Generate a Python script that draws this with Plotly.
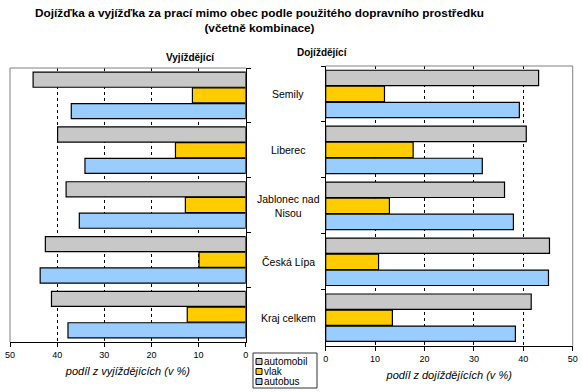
import plotly.graph_objects as go

categories = ["Semily", "Liberec", "Jablonec nad Nisou", "Česká Lípa", "Kraj celkem"]
category_labels = ["Semily", "Liberec", "Jablonec nad<br>Nisou", "Česká Lípa", "Kraj celkem"]
series_names = ["automobil", "vlak", "autobus"]

vyjizdejici_automobil = [45.1, 39.9, 38.1, 42.5, 41.2]
vyjizdejici_vlak = [11.3, 14.9, 12.8, 9.9, 12.4]
vyjizdejici_autobus = [37.0, 34.1, 35.3, 43.6, 37.7]

dojizdejici_automobil = [43.1, 40.6, 36.2, 45.3, 41.6]
dojizdejici_vlak = [11.9, 17.7, 12.9, 10.7, 13.5]
dojizdejici_autobus = [39.2, 31.7, 38.0, 45.1, 38.4]

x_ticks = [0, 10, 20, 30, 40, 50]
grid_ticks = [10, 20, 30, 40]

colors = ["#C8C8C8", "#FFCC00", "#99CCFF"]
W, H = 582, 392
FONT = "Liberation Sans, Arial, sans-serif"

fig = go.Figure()

left = [vyjizdejici_automobil, vyjizdejici_vlak, vyjizdejici_autobus]
right = [dojizdejici_automobil, dojizdejici_vlak, dojizdejici_autobus]

for name, vals, col in zip(series_names, left, colors):
    fig.add_trace(go.Bar(y=categories, x=vals, orientation="h", name=name,
                         marker=dict(color=col, line=dict(color="black", width=1.2)),
                         xaxis="x", yaxis="y", showlegend=False))
for name, vals, col in zip(series_names, right, colors):
    fig.add_trace(go.Bar(y=categories, x=vals, orientation="h", name=name,
                         marker=dict(color=col, line=dict(color="black", width=1.2)),
                         xaxis="x2", yaxis="y2", showlegend=False))

def px_x(p):
    return p / W

def px_y(p):
    return 1 - p / H

xcommon = dict(tickvals=x_ticks, ticks="outside", ticklen=4, tickcolor="black",
               showline=True, linecolor="black", linewidth=1, showgrid=False,
               zeroline=False, automargin=False, ticklabeloverflow="allow",
               tickfont=dict(family=FONT, size=9, color="black"),
               minor=dict(tickvals=grid_ticks, showgrid=True, gridcolor="black",
                          griddash="3px,3px", gridwidth=1, ticks=""),
               title=dict(font=dict(family=FONT, size=11, color="black", style="italic"), standoff=8))

ycommon = dict(type="category", categoryorder="array", categoryarray=categories,
               range=[4.5, -0.5], showticklabels=False, tickson="boundaries",
               ticks="outside", ticklen=4, tickcolor="black", automargin=False,
               showline=True, linecolor="black", linewidth=1, showgrid=False)

fig.update_layout(
    width=W, height=H,
    margin=dict(l=0, r=0, t=0, b=0, autoexpand=False),
    paper_bgcolor="white", plot_bgcolor="white",
    barmode="group", bargap=0.14, bargroupgap=0.04,
    showlegend=False,
    xaxis=dict(domain=[px_x(10), px_x(245.7)], range=[50, 0], anchor="y",
               title_text="podíl z vyjíždějících (v %)", **xcommon),
    yaxis=dict(domain=[px_y(342), px_y(68)], anchor="x", side="right", **ycommon),
    xaxis2=dict(domain=[px_x(325.7), px_x(572.7)], range=[0, 50], anchor="y2",
                title_text="podíl z dojíždějících (v %)", **xcommon),
    yaxis2=dict(domain=[px_y(345.7), px_y(66)], anchor="x2", side="left", **ycommon),
    font=dict(family=FONT, color="black"),
)

# gray frame lines (top/left of left panel, top/right of right panel)
frame = dict(type="line", line=dict(color="#808080", width=1), layer="above")
fig.add_shape(xref="x domain", yref="y domain", x0=0, x1=0, y0=0, y1=1, **frame)
fig.add_shape(xref="x domain", yref="y domain", x0=0, x1=1, y0=1, y1=1, **frame)
fig.add_shape(xref="x2 domain", yref="y2 domain", x0=1, x1=1, y0=0, y1=1, **frame)
fig.add_shape(xref="x2 domain", yref="y2 domain", x0=0, x1=1, y0=1, y1=1, **frame)

# manual legend
lx0, ly0, lx1, ly1 = 253, 353, 317, 388
fig.add_shape(type="rect", xref="paper", yref="paper",
              x0=px_x(lx0), x1=px_x(lx1), y0=px_y(ly1), y1=px_y(ly0),
              line=dict(color="#333333", width=1), fillcolor="white")
for i, (name, col) in enumerate(zip(series_names, colors)):
    cy = 361.5 + i * 10
    fig.add_shape(type="rect", xref="paper", yref="paper",
                  x0=px_x(256), x1=px_x(262), y0=px_y(cy + 3), y1=px_y(cy - 3),
                  line=dict(color="black", width=1), fillcolor=col)
    fig.add_annotation(x=px_x(262), y=px_y(cy), xref="paper", yref="paper",
                       xanchor="left", yanchor="middle", text=name, showarrow=False,
                       font=dict(family=FONT, size=10, color="black"))

# title and panel headings
fig.add_annotation(x=px_x(259), y=px_y(4), xref="paper", yref="paper", xanchor="center", yanchor="top",
                   text="<b>Dojížďka a vyjížďka za prací mimo obec podle použitého dopravního prostředku<br>(včetně kombinace)</b>",
                   showarrow=False, font=dict(family=FONT, size=11.8, color="black"))
fig.add_annotation(x=px_x(190), y=px_y(57), xref="paper", yref="paper", xanchor="center", yanchor="middle",
                   text="<b>Vyjíždějící</b>", showarrow=False, font=dict(family=FONT, size=10, color="black"))
fig.add_annotation(x=px_x(322), y=px_y(52), xref="paper", yref="paper", xanchor="center", yanchor="middle",
                   text="<b>Dojíždějící</b>", showarrow=False, font=dict(family=FONT, size=10, color="black"))

# category labels in the middle
for cat, lab in zip(categories, category_labels):
    fig.add_annotation(x=px_x(288), y=cat, xref="paper", yref="y2", xanchor="center", yanchor="middle",
                       text=lab, showarrow=False, font=dict(family=FONT, size=10.5, color="black"))

fig.write_html("out.html", config={"displayModeBar": False},
               post_script="document.body.style.margin='0';document.body.style.overflow='hidden';")
